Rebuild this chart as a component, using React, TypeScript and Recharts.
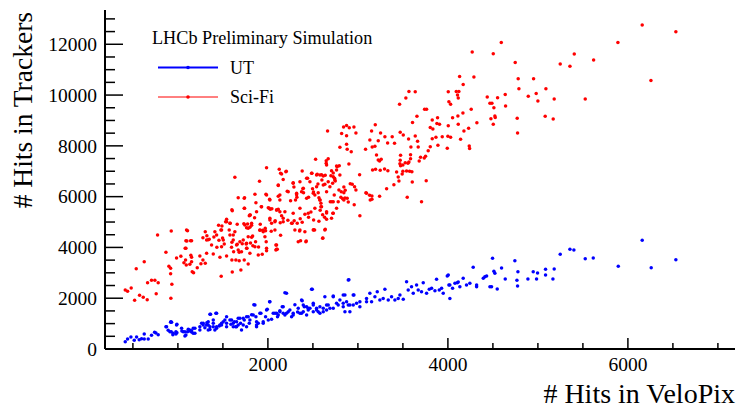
import { ScatterChart, Scatter, XAxis, YAxis } from 'recharts';

// # hits in VeloPix vs # hits in trackers
const sciFiPoints: [number, number][] = [
  [6159, 12756], [6533, 12492], [5889, 12075], [4593, 12075], [4504, 11627], [5404, 11614], [5619, 11378],
  [4748, 11287], [5248, 11220], [5356, 11130], [4781, 10642], [4952, 10642], [6256, 10578], [4789, 10248],
  [5089, 10248], [4981, 10066], [4637, 10027], [4893, 9949], [4437, 9921], [4552, 9895], [5181, 9843],
  [5526, 9843], [5000, 9764], [4467, 9673], [4489, 9673], [4511, 9500], [4641, 9567], [5081, 9161],
  [5170, 9055], [4770, 9083], [4522, 9173], [4526, 9121], [4478, 9067], [4504, 8846], [4774, 8504],
  [4270, 11693], [4130, 10736], [4289, 10709], [4170, 10421], [3567, 10144], [3637, 10131], [4004, 10131],
  [4093, 10144], [4122, 10144], [3533, 9882], [4107, 10000], [4115, 9882], [4011, 9736], [4030, 9634],
  [3463, 9634], [3741, 9437], [3763, 9437], [4259, 9437], [4167, 9291], [4322, 8910], [3656, 9161],
  [3607, 8921], [3826, 9016], [3885, 9107], [4052, 9107], [4111, 9173], [3878, 8885], [3907, 8846],
  [4004, 8792], [4115, 8846], [4230, 8689], [4178, 8583], [3804, 8727], [3833, 8661], [3193, 8831],
  [3152, 8583], [3252, 8504], [2841, 8740], [2874, 8806], [2904, 8713], [2956, 8740], [2819, 8491],
  [2874, 8398], [2978, 8504], [3470, 8531], [3504, 8425], [3563, 8268], [3637, 8386], [3300, 8360],
  [3381, 8360], [3407, 8098], [3133, 8228], [3226, 8201], [3330, 8110], [3663, 8177], [3826, 8280],
  [3867, 8335], [3937, 8360], [4000, 8374], [4030, 8335], [4141, 8256], [2874, 8059], [2800, 7941],
  [3085, 7862], [3159, 7953], [3189, 7980], [3589, 7953], [3670, 7953], [3804, 7966], [3889, 8020],
  [3993, 7902], [4237, 7992], [4241, 7900],
  [2663, 8583], [2881, 7862], [2926, 7768], [3207, 7638], [3226, 7441], [3259, 7468], [3241, 7402],
  [3296, 7087], [3333, 7020], [3248, 7035], [3163, 7047], [3196, 7075], [2900, 7283], [3474, 7626],
  [3470, 7429], [3467, 7295], [3474, 7217], [3500, 7244], [3526, 7335], [3556, 7311], [3567, 7362],
  [3585, 7492], [3585, 7650], [3696, 7547], [3681, 7402], [3737, 7520], [3752, 7587], [3781, 7807],
  [3430, 6969], [3448, 6772], [3456, 6614], [3500, 6996], [3492, 6890], [3541, 7008], [3574, 6996],
  [3600, 6980], [3400, 6469], [3548, 5972], [3604, 6575], [3707, 5800], [3759, 6626], [3319, 6311],
  [3241, 6012], [3137, 5866], [3156, 6024], [3130, 6051], [3096, 6130], [3019, 6864], [2915, 6508],
  [2937, 6484], [2963, 6394], [2978, 6260], [2844, 6378], [2859, 6248], [2815, 6193], [2844, 6154],
  [2811, 5972], [2830, 5917], [2856, 5945], [2844, 5866], [2881, 5933], [2893, 5787], [2959, 5681],
  [3022, 5248], [2693, 5800], [2711, 5800], [2737, 6063], [2789, 6260], [2719, 6524], [2700, 6823],
  [2748, 6614], [2741, 6720], [2726, 6929], [2770, 7177], [2793, 7217], [2648, 7311], [2648, 7413],
  [2670, 7492], [2530, 7468], [2637, 6842], [2596, 6864], [2548, 6878], [2489, 6917], [2441, 6720],
  [2556, 6496], [2633, 6484], [2600, 6654], [2381, 7008], [2281, 6547], [2289, 6378], [2170, 6673],
  [2204, 6996], [2126, 7075], [2141, 6917], [2115, 6441], [1985, 7138], [1978, 6091], [2019, 5894],
  [2004, 5563], [2115, 6012], [2133, 5866], [2215, 6209], [2252, 5839], [2319, 6075], [2322, 5972],
  [2307, 5866], [2389, 6311], [2396, 6154], [2452, 5972], [2522, 6063], [2496, 6311], [2507, 6181],
  [2559, 6154], [2567, 5957], [2578, 5866], [2589, 5736], [2589, 5602], [2026, 5500], [2044, 5524],
  [2096, 5472], [2115, 5500], [2022, 5146], [2041, 4949], [2081, 5051], [2137, 4972], [2152, 5248],
  [2170, 5146], [2222, 5067], [2270, 4949], [2292, 5051], [2326, 4949], [2359, 5130], [2381, 4988],
  [2411, 5303], [2452, 5185], [2478, 5394], [2508, 5079], [2519, 4685], [2567, 5028], [2581, 5461],
  [2608, 5287], [2630, 5185], [2652, 5354], [2722, 5343], [2078, 4685], [2141, 4476], [2037, 4634],
  [1970, 4752], [1967, 4421], [2089, 4094], [2104, 3925], [2089, 3898], [2352, 4646], [2363, 4264],
  [2426, 4252], [2508, 4697], [2611, 4370], [2637, 4713], [2652, 5106], [3089, 6154], [3156, 5894],
  [1633, 6760], [1907, 6602], [1670, 5957], [1741, 5957], [1867, 5760], [1926, 5602], [1600, 5484],
  [1741, 5539], [1793, 5248], [1852, 5169], [1804, 5276], [1541, 5106], [1530, 5012], [1581, 4949],
  [1489, 4843], [1452, 4870], [1478, 4685], [1570, 4685], [1615, 4488], [1659, 4910], [1733, 4934],
  [1774, 4921], [1819, 4870], [1800, 4791], [1763, 4776], [1915, 4910], [1974, 4661], [1941, 4673],
  [1911, 4673], [1830, 4449], [1781, 4421], [1400, 4409], [1456, 4280], [1496, 4370], [1515, 4134],
  [1485, 4028], [1433, 4004], [1374, 4094], [1337, 4303], [1322, 4461], [1278, 4382], [1304, 4618],
  [1600, 4201], [1596, 4004], [1619, 3831], [1659, 4122], [1681, 3807], [1715, 4146], [1759, 4134],
  [1767, 3965], [1807, 4173], [1833, 4067], [1863, 4224], [1896, 4016], [1937, 3728], [1981, 4224],
  [1985, 3870], [1600, 3504], [1681, 3476], [1700, 3110], [1604, 3031], [1481, 2862], [1644, 3504],
  [1737, 3504], [1781, 3346], [1278, 3504], [1304, 3374], [1256, 3358], [1215, 3201], [1152, 3437],
  [1133, 3335], [1159, 3044], [1174, 3004], [1085, 3504], [1093, 3307], [1067, 3398], [1144, 3689],
  [1033, 3650], [985, 3583], [1100, 4252], [1081, 3965], [1141, 4264], [1107, 4661], [926, 4646],
  [867, 3807], [774, 4488], [900, 3256], [919, 2965], [933, 2547], [922, 1996], [919, 3177],
  [626, 3437], [663, 2610], [707, 2705], [744, 2705], [781, 2610], [759, 2177], [537, 3161],
  [415, 2323], [441, 2272], [481, 2402], [574, 2114], [615, 2035], [659, 1941], [519, 1917],
  // second pass over the dense middle of the cloud
  [2652, 7244], [2763, 7205], [2152, 6890], [2200, 6980], [2115, 6457], [2281, 6524], [2356, 6587],
  [2430, 6720], [2485, 6917], [2541, 6850], [2578, 6850], [2615, 6811], [2670, 6587], [2726, 6784],
  [2763, 7047], [2707, 7020], [2744, 6654], [2800, 6850], [2689, 6390], [2615, 6457], [2541, 6390],
  [2467, 6587], [2393, 6327], [1737, 5933], [1856, 6091], [1985, 6063], [2022, 5866], [2133, 6063],
  [2226, 6193], [2319, 6130], [2374, 6193], [2430, 5933], [2504, 6130], [2578, 5866], [2652, 6193],
  [2726, 5800], [2781, 5800], [1604, 5445], [1737, 5539], [1800, 5276], [1874, 5406], [1930, 5602],
  [2015, 5539], [2096, 5472], [2133, 5406], [2189, 5406], [2281, 5343], [2356, 5539], [2448, 5343],
  [2522, 5539], [2596, 5602], [2652, 5406], [2726, 5343], [2763, 5539], [1541, 5012], [1578, 4949],
  [1744, 4882], [1781, 4752], [1819, 4949], [1911, 4685], [1948, 4618], [2022, 5079], [2078, 5012],
  [2170, 5012], [2263, 4949], [2300, 4685], [2356, 4685], [2411, 4618], [2504, 4685], [2633, 4685],
  [2707, 5146], [1096, 4685], [1089, 4264], [1152, 4264], [1089, 3965], [1319, 4291], [1348, 4319],
  [1411, 4618], [1430, 4488], [1485, 4685], [1504, 4291], [1578, 4488], [1633, 4618], [1615, 4291],
  [1652, 4094], [1689, 4224], [1726, 4291], [1763, 4161], [1819, 4398], [1670, 3898], [1707, 3831],
  [1763, 3965], [1800, 3768], [1856, 4028], [1893, 3701], [1985, 3965], [2096, 4094], [2096, 3925],
  [2337, 4224], [2422, 4224], [2608, 4358], [1393, 3740], [1319, 3768], [1244, 3661], [1152, 3610],
  [1467, 3610], [1541, 3661],
];

const utPoints: [number, number][] = [
  [415, 287], [441, 394], [478, 472], [515, 343], [541, 472], [570, 366], [596, 406], [626, 591],
  [626, 394], [670, 394], [707, 539], [741, 657], [756, 630], [781, 563],
  [874, 878], [892, 736], [919, 1051], [926, 681], [948, 618], [944, 563], [978, 591], [989, 642],
  [989, 972], [1044, 709], [1078, 512], [1059, 681], [1107, 681], [1130, 748], [1152, 669], [1170, 815],
  [1189, 618], [1263, 1012], [1300, 839], [1322, 1035], [1356, 772], [1363, 1366], [1430, 1406],
  [1337, 945], [1393, 878], [1411, 748], [1459, 906], [1485, 1012], [1522, 1142], [1541, 878],
  [1589, 972], [1626, 1075], [1641, 878], [1670, 1209], [1696, 1012], [1707, 748], [1737, 1142],
  [1763, 1272], [1793, 1012], [1819, 1350], [1844, 1744], [1867, 1272], [1893, 1012], [1922, 1406],
  [1948, 1075], [1974, 1272], [1993, 1563], [2019, 1862], [2041, 1169], [2078, 1406], [2107, 1272],
  [2133, 1508], [2159, 1665], [2189, 2217], [2207, 1406], [2244, 1535], [2263, 1272], [2300, 1744],
  [2330, 1457], [2356, 1406], [2381, 1902], [2404, 1665], [2493, 2350], [2900, 2728], [2374, 1929],
  [2393, 1732], [2430, 1665], [2467, 1602], [2504, 1799], [2541, 1535], [2578, 1665], [2615, 1469],
  [2652, 1732], [2689, 1602], [2726, 2059], [2763, 1799], [2800, 1929], [2837, 1665], [2856, 2126],
  [2874, 1862], [2911, 1732], [2948, 2126], [2985, 1799], [3022, 1665], [3096, 1984], [3133, 2193],
  [3152, 1862], [3189, 2059], [3215, 2256], [3244, 1929], [3281, 1984], [3300, 2350], [3337, 1929],
  [3374, 2059], [3411, 1929], [3448, 1984], [3467, 2126], [3504, 1957], [3541, 2650], [3559, 2323],
  [3596, 2453], [3615, 2193], [3652, 2520], [3670, 2323], [3707, 2256], [3726, 2610], [3763, 2193],
  [3793, 2350], [3819, 2390], [3856, 2295], [3874, 2744], [3904, 2323], [3930, 2390], [3948, 2193],
  [3993, 2874], [4022, 2520], [4052, 2390], [4078, 2587], [4104, 2610], [4133, 2453], [4170, 2783],
  [4207, 2520], [4244, 2587], [4281, 3217], [4319, 2453], [4393, 2783], [4430, 2874], [4496, 3571],
  [4485, 2453], [4522, 2980], [4744, 3476], [4596, 3189], [4511, 3059], [4637, 2756], [4548, 2362],
  [4778, 3043], [4767, 2705], [4774, 2480], [4889, 2756], [4948, 3043], [4985, 2756], [4996, 2992],
  [5085, 3138], [5085, 2913], [5167, 2756], [5181, 3150], [5248, 3728], [5356, 3925], [5400, 3898],
  [5526, 3555], [5615, 3583], [5893, 3256], [6159, 4280], [6259, 3201], [6533, 3516],
  [4004, 2913], [4011, 2520], [4115, 2640], [4319, 2520], [4411, 2846], [4467, 2453], [4022, 1984],
  [922, 1075], [985, 945], [1041, 815], [1078, 681], [1133, 709], [1244, 748], [1281, 945],
  [1337, 1075], [1393, 1142], [1430, 878], [1485, 945], [1541, 1012], [1596, 1142], [1615, 878],
  [1670, 945], [1726, 1209], [1781, 1272], [1837, 1339], [1874, 945], [2004, 1142], [2059, 1406],
  [2115, 1339], [2170, 1406], [2226, 1469], [2281, 1339], [2337, 1602], [2393, 1469], [2448, 1602],
  [2504, 1732], [2559, 1469], [2615, 1602], [2670, 1732], [2726, 1602], [2781, 1732], [2837, 1799],
  [2893, 2717], [2948, 1732], [3022, 1862], [3096, 1862],
  // second pass over the dense band
  [867, 878], [930, 1051], [911, 681], [978, 681], [1115, 776], [1152, 722], [1189, 815], [1089, 551],
  [1170, 618], [1244, 878], [1281, 1012], [1319, 945], [1356, 878], [1337, 748], [1393, 1012],
  [1430, 815], [1467, 945], [1504, 1075], [1578, 1142], [1615, 1012], [1652, 1075], [1689, 1209],
  [1726, 945], [1800, 1142], [1874, 1075], [1911, 1406], [1948, 1012], [1356, 1366], [1422, 1406],
  [1541, 1272], [1652, 878], [1763, 878], [1856, 1732], [1874, 878], [1985, 1535], [2022, 1862],
  [2096, 1406], [2133, 1469], [2170, 1665], [2207, 2193], [2189, 1339], [2281, 1406], [2374, 1406],
  [2430, 1339], [2448, 1535], [2485, 2350], [2504, 1469], [2541, 1602], [2578, 1406], [2633, 2059],
  [2652, 1535], [2726, 2087], [2837, 2126], [2856, 1469], [2893, 1732], [2911, 1469], [2956, 2126],
];

const xTicks = [500, 1000, 1500, 2000, 2500, 3000, 3500, 4000, 4500, 5000, 5500, 6000, 6500, 7000];
const yTicks = [
  0, 500, 1000, 1500, 2000, 2500, 3000, 3500, 4000, 4500, 5000, 5500, 6000, 6500,
  7000, 7500, 8000, 8500, 9000, 9500, 10000, 10500, 11000, 11500, 12000, 12500, 13000,
];

const utData = utPoints.map(([velo, hits]) => ({ velo, hits }));
const sciFiData = sciFiPoints.map(([velo, hits]) => ({ velo, hits }));

const SERIF = '"Liberation Serif", "Times New Roman", serif';

const BottomTick = ({ x, y, payload }: any) => {
  const major = payload.value % 2000 === 0;
  return (
    <g>
      <line x1={x} y1={y} x2={x} y2={y - (major ? 11 : 6)} stroke="#000" strokeWidth={1.5} />
      {major && (
        <text x={x} y={y + 22} textAnchor="middle" style={{ fontFamily: SERIF }} fontSize={19.5} fill="#000">
          {payload.value}
        </text>
      )}
    </g>
  );
};

const TopTick = ({ x, y, payload }: any) => {
  const major = payload.value % 2000 === 0;
  return <line x1={x} y1={y} x2={x} y2={y + (major ? 11 : 6)} stroke="#000" strokeWidth={1.5} />;
};

const LeftTick = ({ x, y, payload }: any) => {
  const major = payload.value % 2000 === 0;
  return (
    <g>
      <line x1={x} y1={y} x2={x + (major ? 18 : 10)} y2={y} stroke="#000" strokeWidth={1.5} />
      {major && (
        <text x={x - 8} y={y} dy="0.35em" textAnchor="end" style={{ fontFamily: SERIF }} fontSize={19.5} fill="#000">
          {payload.value}
        </text>
      )}
    </g>
  );
};

const RightTick = ({ x, y, payload }: any) => {
  const major = payload.value % 2000 === 0;
  return <line x1={x} y1={y} x2={x - (major ? 18 : 10)} y2={y} stroke="#000" strokeWidth={1.5} />;
};

const dot = (color: string) => (p: any) => <circle cx={p.cx} cy={p.cy} r={1.75} fill={color} />;

export default function App() {
  return (
    <div style={{ position: 'absolute', left: 0, top: 0, width: 737, height: 409, background: '#fff' }}>
      <ScatterChart width={737} height={409} margin={{ top: 10, right: 2, bottom: 0, left: 0 }}>
        <XAxis
          dataKey="velo"
          type="number"
          domain={[190, 7190]}
          ticks={xTicks}
          interval={0}
          height={60}
          tickSize={0}
          tickMargin={0}
          tickLine={false}
          tick={<BottomTick />}
          axisLine={{ stroke: '#000', strokeWidth: 2 }}
          allowDataOverflow
        />
        <XAxis
          xAxisId="top"
          orientation="top"
          dataKey="velo"
          type="number"
          domain={[190, 7190]}
          ticks={xTicks}
          interval={0}
          height={0}
          tickSize={0}
          tickMargin={0}
          tickLine={false}
          tick={<TopTick />}
          axisLine={{ stroke: '#000', strokeWidth: 2 }}
          allowDataOverflow
        />
        <YAxis
          dataKey="hits"
          type="number"
          domain={[0, 13350]}
          ticks={yTicks}
          interval={0}
          width={105}
          tickSize={0}
          tickMargin={0}
          tickLine={false}
          tick={<LeftTick />}
          axisLine={{ stroke: '#000', strokeWidth: 2 }}
          allowDataOverflow
        />
        <YAxis
          yAxisId="right"
          orientation="right"
          dataKey="hits"
          type="number"
          domain={[0, 13350]}
          ticks={yTicks}
          interval={0}
          width={0}
          tickSize={0}
          tickMargin={0}
          tickLine={false}
          tick={<RightTick />}
          axisLine={{ stroke: '#000', strokeWidth: 2 }}
          allowDataOverflow
        />
        <Scatter name="UT" data={utData} fill="#0000ff" shape={dot('#0000ff')} isAnimationActive={false} />
        <Scatter name="Sci-Fi" data={sciFiData} fill="#ff0000" shape={dot('#ff0000')} isAnimationActive={false} />
        <Scatter xAxisId="top" yAxisId="right" data={[]} isAnimationActive={false} />
      </ScatterChart>
      <svg
        width={737}
        height={409}
        style={{ position: 'absolute', left: 0, top: 0, pointerEvents: 'none', fontFamily: SERIF }}
      >
        <text x={32} y={12} transform="rotate(-90 32 12)" textAnchor="end" fontSize={27.5} fill="#000">
          # Hits in Trackers
        </text>
        <text x={735} y={403} textAnchor="end" fontSize={28} fill="#000">
          # Hits in VeloPix
        </text>
        <text x={152} y={44} fontSize={18.2} fill="#000">
          LHCb Preliminary Simulation
        </text>
        <line x1={158} y1={67.5} x2={218} y2={67.5} stroke="#0000ff" strokeWidth={2} />
        <circle cx={188} cy={67.5} r={1.8} fill="#0000ff" />
        <text x={230} y={74} fontSize={18} fill="#000">
          UT
        </text>
        <line x1={158} y1={97} x2={218} y2={97} stroke="#ff0000" strokeWidth={1} />
        <circle cx={188} cy={97} r={1.8} fill="#ff0000" />
        <text x={230} y={103} fontSize={18} fill="#000">
          Sci-Fi
        </text>
      </svg>
    </div>
  );
}
